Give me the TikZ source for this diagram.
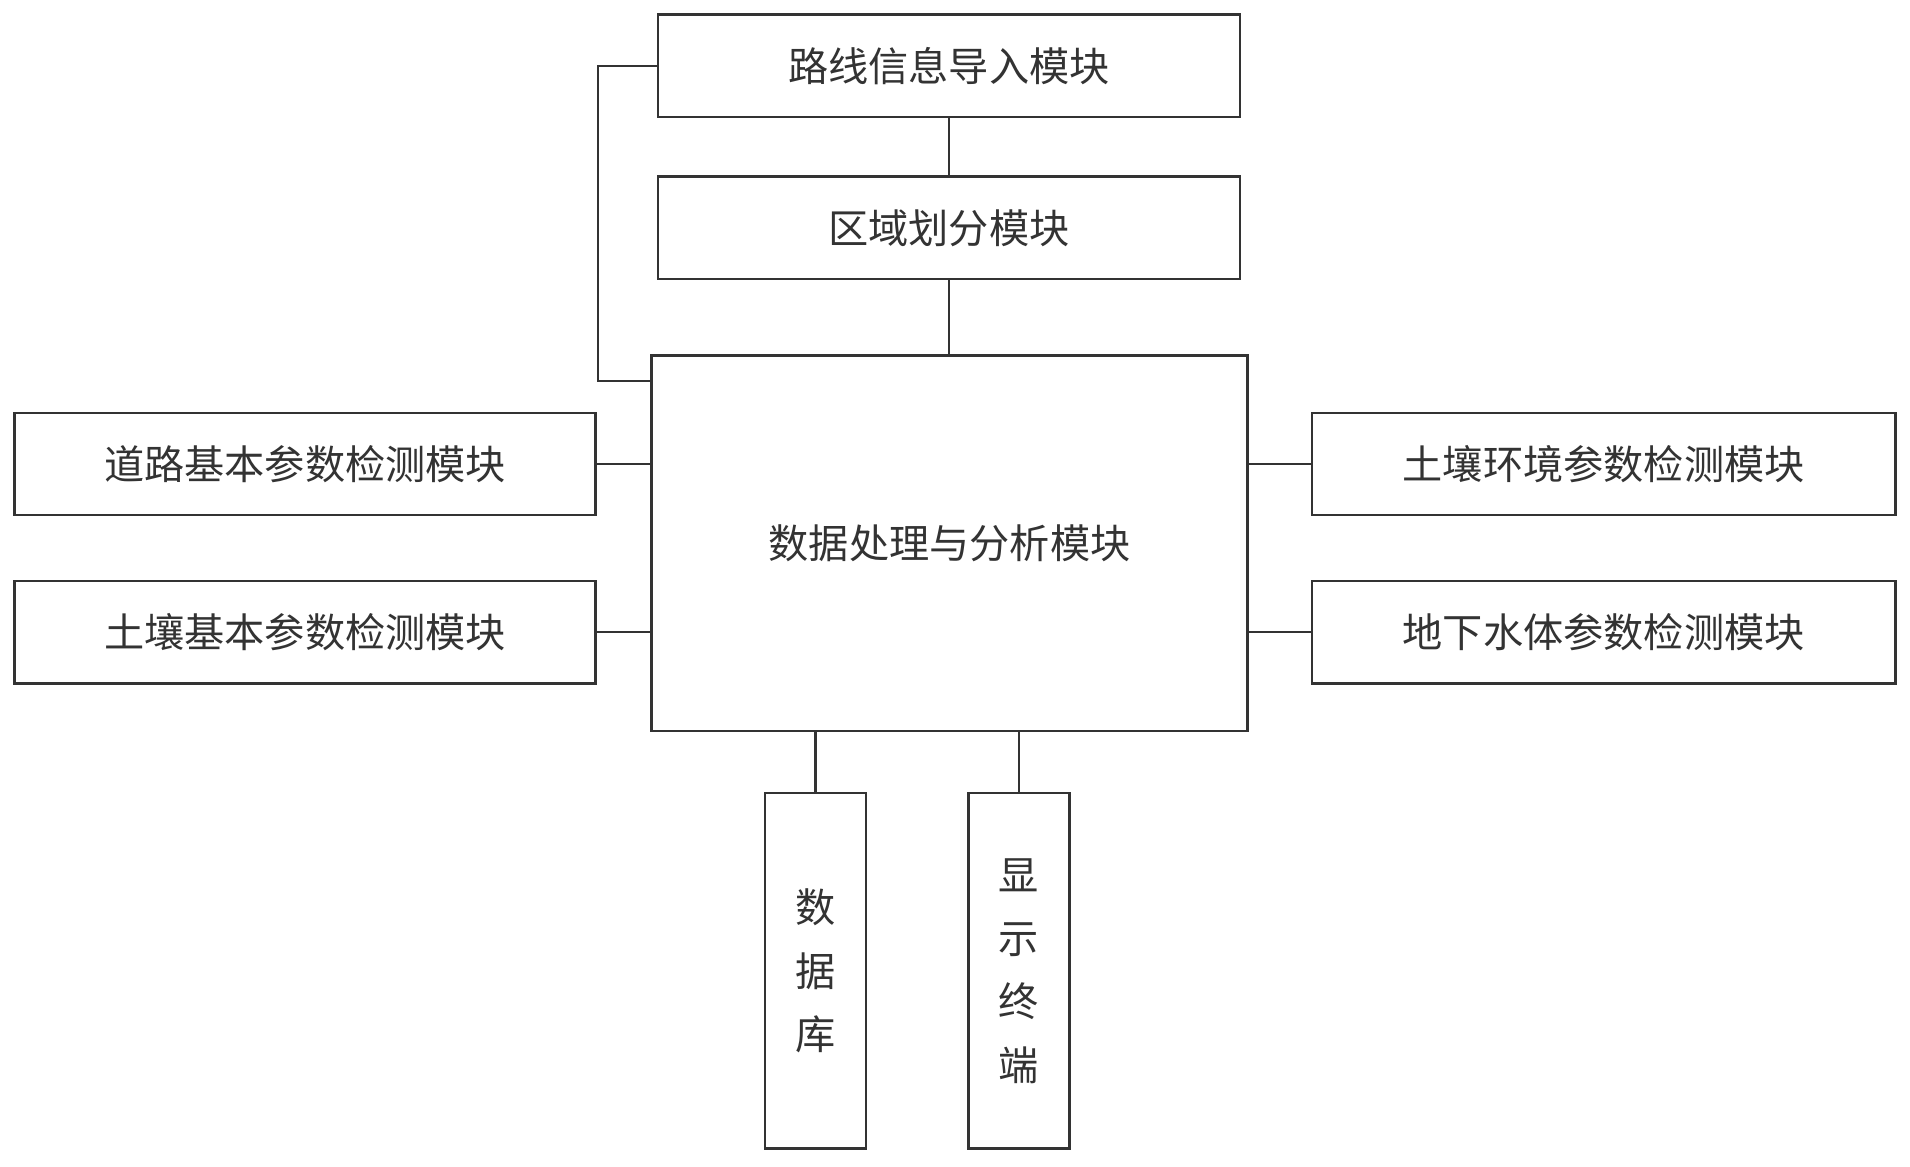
\documentclass[tikz,border=0pt]{standalone}
\usepackage{fontspec}
\newfontfamily\cjk{Noto Sans CJK SC}
\begin{document}
\begin{tikzpicture}[x=1pt,y=-1pt,
  box/.style={draw=black!80,line width=2pt,inner sep=0pt,font=\cjk\fontsize{33}{52}\selectfont,text=black!80,align=center},
  wire/.style={draw=black!80,line width=2pt}]
\useasboundingbox (0,0) rectangle (1568,958);
\node[box,minimum width=478,minimum height=84] (route) at (779,54) {路线信息导入模块};
\node[box,minimum width=478,minimum height=84] (zone) at (779,187) {区域划分模块};
\node[box,minimum width=489,minimum height=308] (proc) at (779.5,446) {数据处理与分析模块};
\node[box,minimum width=477,minimum height=84] (l1) at (250.5,381) {道路基本参数检测模块};
\node[box,minimum width=477,minimum height=84] (l2) at (250.5,519) {土壤基本参数检测模块};
\node[box,minimum width=479,minimum height=84] (r1) at (1316.5,381) {土壤环境参数检测模块};
\node[box,minimum width=479,minimum height=84] (r2) at (1316.5,519) {地下水体参数检测模块};
\node[box,minimum width=83,minimum height=292] (db) at (669.5,797) {数\\据\\库};
\node[box,minimum width=83,minimum height=292] (disp) at (836.5,797) {显\\示\\终\\端};
\coordinate (c1) at (491,54);
\coordinate (c2) at (491,313);
\path[wire] (route.west) -- (c1) -- (c2) -- (c2 -| proc.west);
\path[wire] (route.south) -- (zone.north);
\path[wire] (zone.south) -- (zone.south |- proc.north);
\path[wire] (l1.east) -- (l1.east -| proc.west);
\path[wire] (l2.east) -- (l2.east -| proc.west);
\path[wire] (r1.west) -- (r1.west -| proc.east);
\path[wire] (r2.west) -- (r2.west -| proc.east);
\path[wire] (db.north) -- (db.north |- proc.south);
\path[wire] (disp.north) -- (disp.north |- proc.south);
\end{tikzpicture}
\end{document}
